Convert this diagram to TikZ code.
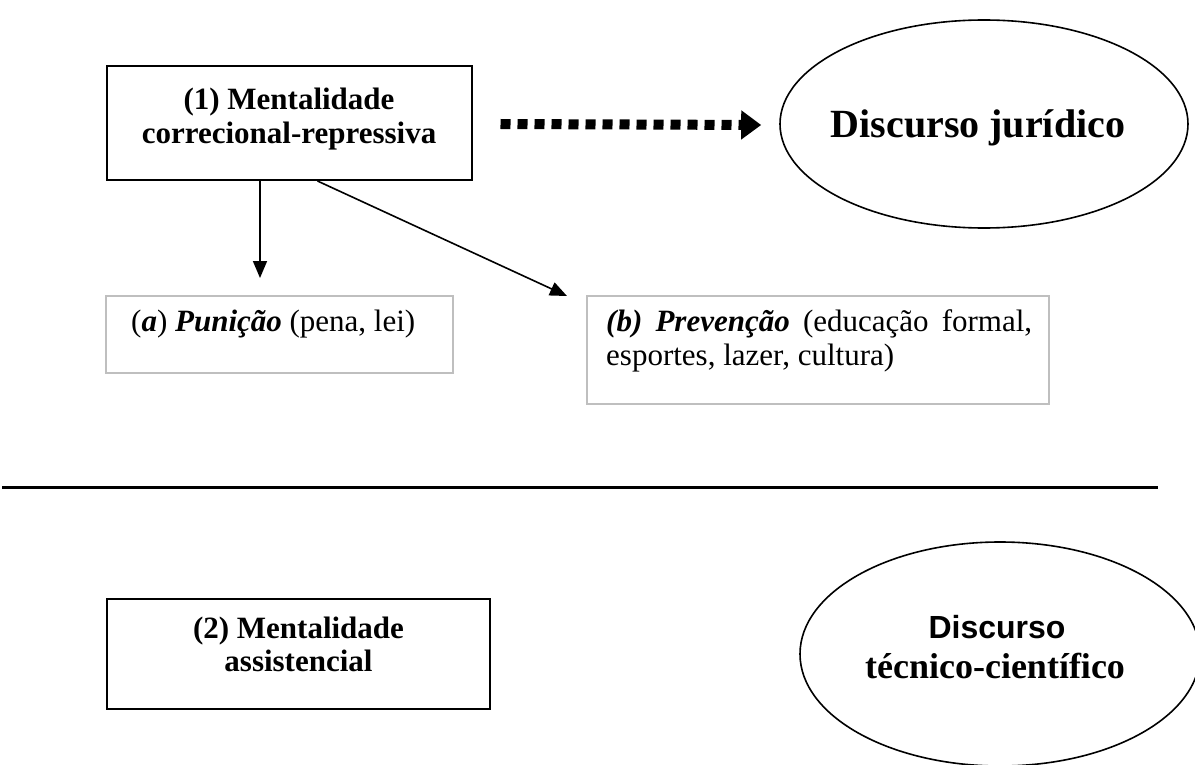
\documentclass[tikz,border=0pt]{standalone}
\usepackage{fontspec}
\setmainfont{Liberation Serif}
\newfontfamily\arialfont{Liberation Sans}
\usetikzlibrary{shapes.geometric,arrows.meta,calc}
\tikzset{
  mainbox/.style={draw=black, line width=2pt, rectangle, inner sep=0pt},
  subbox/.style={draw=black!25, line width=2pt, rectangle, inner sep=0pt},
  oval/.style={draw=black, line width=1.6pt, ellipse, inner sep=0pt},
  arr/.style={line width=1.6pt, -{Triangle[length=17pt,width=14pt]}},
  dotarr/.style={line width=10pt, dash pattern=on 10pt off 7pt, -{Triangle[length=20pt,width=28pt]}},
  headtxt/.style={font=\fontsize{31}{34}\selectfont\bfseries, inner sep=0pt, anchor=base},
  subtxt/.style={font=\fontsize{31}{34}\selectfont, inner sep=0pt, anchor=base west},
}
\begin{document}
\begin{tikzpicture}[x=1pt,y=-1pt]
\useasboundingbox (0,0) rectangle (1195,765);
% top part
\node[mainbox, minimum width=365pt, minimum height=114pt] (m1) at (289,123) {};
\node[headtxt] (m1t1) at (289,110) {(1) Mentalidade};
\node[headtxt] (m1t2) at (289,144) {correcional-repressiva};
\node[oval, minimum width=408pt, minimum height=208pt] (ej) at (984,124) {};
\node[font=\fontsize{40}{44}\selectfont\bfseries, inner sep=0pt, anchor=base] (ejt) at (978,138) {Discurso jurídico};
\draw[dotarr] ($(m1.east)+(28,1)$) -- ($(ej.west)+(-18,1)$);
\node[subbox, minimum width=347pt, minimum height=77pt] (pa) at (279.5,334.5) {};
\node[subtxt] (pat) at (131,331) {(\textbf{\textit{a}}) \textbf{\textit{Punição}} (pena, lei)};
\node[subbox, minimum width=462pt, minimum height=108pt] (pb) at (818,350) {};
\node[subtxt] (pbt1) at (606,331) {\makebox[426pt][s]{\textbf{\textit{(b) Prevenção}} (educação formal,}};
\node[subtxt] (pbt2) at (606,365) {esportes, lazer, cultura)};
\coordinate (tipa) at (260,278);
\coordinate (tipb) at (567,296);
\draw[arr] (m1.south -| tipa) -- (tipa);
\draw[arr] ($(m1.south west)+(212,0)$) -- (tipb);
% separator
\coordinate (s0) at (2,487);
\coordinate (s1) at (1158,487);
\draw[line width=3pt] (s0) -- (s1);
% bottom part
\node[mainbox, minimum width=383pt, minimum height=110pt] (m2) at (298.5,654) {};
\node[headtxt] (m2t1) at (298.5,638) {(2) Mentalidade};
\node[headtxt] (m2t2) at (298.5,671) {assistencial};
\node[oval, minimum width=400pt, minimum height=224pt] (et) at (1000,654) {};
\node[font=\fontsize{32}{34}\selectfont\bfseries\arialfont, inner sep=0pt, anchor=base] (et1) at (997,638) {Discurso};
\node[font=\fontsize{36}{40}\selectfont\bfseries, inner sep=0pt, anchor=base] (et2) at (995,678) {técnico-científico};
\end{tikzpicture}
\end{document}
